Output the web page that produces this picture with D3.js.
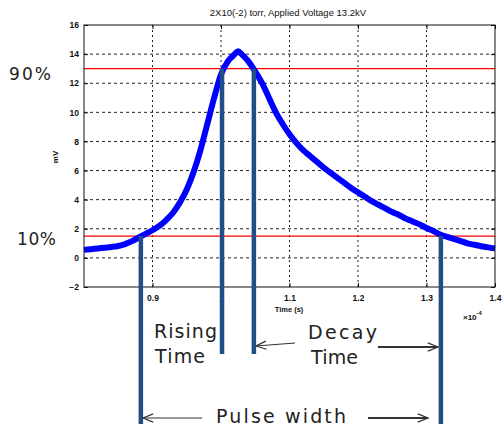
<!DOCTYPE html>
<html><head><meta charset="utf-8">
<script src="https://cdn.jsdelivr.net/npm/d3@7"></script>
<style>body{margin:0;background:#fff}svg{display:block}</style>
</head><body>
<svg id="c" width="502" height="428"></svg>
<script>
// ---- data (time in units of 1e-4 s, signal in mV) ----
const timeVals = [0.80,0.81,0.82,0.83,0.84,0.85,0.86,0.87,0.88,0.89,0.90,0.91,0.92,0.93,0.94,0.95,0.96,0.97,0.98,0.99,
  1.00,1.01,1.02,1.025,1.03,1.04,1.05,1.06,1.07,1.08,1.09,1.10,1.11,1.12,1.13,1.14,1.15,1.16,1.17,1.18,1.19,
  1.20,1.21,1.22,1.23,1.24,1.25,1.26,1.27,1.28,1.29,1.30,1.31,1.32,1.33,1.34,1.35,1.36,1.37,1.38,1.39,1.40];
const signalVals = [0.55,0.6,0.65,0.7,0.75,0.82,0.95,1.15,1.4,1.65,1.9,2.2,2.6,3.1,3.8,4.7,5.9,7.4,9.2,11.0,
  12.6,13.5,14.0,14.2,14.0,13.5,12.8,12.0,11.0,10.0,9.2,8.5,7.9,7.4,7.0,6.6,6.2,5.85,5.5,5.15,4.8,
  4.5,4.2,3.9,3.65,3.4,3.15,2.95,2.7,2.5,2.3,2.05,1.85,1.6,1.45,1.3,1.15,1.0,0.9,0.8,0.72,0.65];
const xTicks = [0.9,1.0,1.1,1.2,1.3,1.4];
const xTickLabels = ["0.9","1","1.1","1.2","1.3","1.4"];
const yTicks = [-2,0,2,4,6,8,10,12,14,16];
const level90 = 13.0, level10 = 1.5;
const markerTimes = [0.883, 1.0015, 1.048, 1.321];
const markerLevels = [1.5, 13.0, 13.0, 1.5];
const titleText = "2X10(-2) torr, Applied Voltage 13.2kV";

// ---- layout ----
const svg = d3.select("#c");
const L = 84, T = 25, W = 411, H = 262;
const x = d3.scaleLinear().domain([0.8,1.4]).range([L, L+W]);
const y = d3.scaleLinear().domain([-2,16]).range([T+H, T]);
const font = "'Liberation Sans', Arial, sans-serif";
const bigFont = "'DejaVu Sans', Verdana, sans-serif";

// grid
svg.append("g").selectAll("line").data(yTicks.filter(d=>d>-2&&d<16)).join("line")
  .attr("x1", L).attr("x2", L+W).attr("y1", d=>y(d)).attr("y2", d=>y(d))
  .attr("stroke", "#222").attr("stroke-width", 1).attr("stroke-dasharray", "3,3");
svg.append("g").selectAll("line").data(xTicks.filter(d=>d<1.4)).join("line")
  .attr("y1", T).attr("y2", T+H).attr("x1", d=>x(d)).attr("x2", d=>x(d))
  .attr("stroke", "#222").attr("stroke-width", 1).attr("stroke-dasharray", "2,3");

// axes with inward ticks
const ax = svg.append("g").attr("font-family", font);
ax.append("g").attr("transform", `translate(0,${T+H})`)
  .call(d3.axisBottom(x).tickValues(xTicks).tickFormat((d,i)=>xTickLabels[i]).tickSizeInner(-4).tickSizeOuter(0).tickPadding(8))
  .call(g=>g.select(".domain").remove());
ax.append("g").attr("transform", `translate(${L},0)`)
  .call(d3.axisLeft(y).tickValues(yTicks).tickSizeInner(-4).tickSizeOuter(0).tickPadding(5))
  .call(g=>g.select(".domain").remove());
ax.append("g").attr("transform", `translate(0,${T})`)
  .call(d3.axisTop(x).tickValues(xTicks).tickFormat("").tickSizeInner(-4).tickSizeOuter(0))
  .call(g=>g.select(".domain").remove());
ax.append("g").attr("transform", `translate(${L+W},0)`)
  .call(d3.axisRight(y).tickValues(yTicks).tickFormat("").tickSizeInner(-4).tickSizeOuter(0))
  .call(g=>g.select(".domain").remove());
ax.selectAll(".tick text").attr("font-size", 8.5).attr("font-weight", "bold").attr("fill", "#111");
ax.selectAll(".tick line").attr("stroke", "#111");

// threshold lines
svg.append("g").selectAll("line").data([level90, level10]).join("line")
  .attr("x1", L).attr("x2", L+W).attr("y1", d=>y(d)).attr("y2", d=>y(d))
  .attr("stroke", "#ff0000").attr("stroke-width", 1.2);

// signal (thick stroke imitates the noise band)
const pts = timeVals.map((t,i)=>[t, signalVals[i]]);
svg.append("path").datum(pts)
  .attr("d", d3.line().x(d=>x(d[0])).y(d=>y(d[1])).curve(d3.curveMonotoneX))
  .attr("fill", "none").attr("stroke", "#0000ff").attr("stroke-width", 6).attr("stroke-linejoin", "round");

// frame
svg.append("rect").attr("x", L).attr("y", T).attr("width", W).attr("height", H)
  .attr("fill", "none").attr("stroke", "#111").attr("stroke-width", 1);

// title & labels
svg.append("text").attr("x", 288).attr("y", 16).attr("text-anchor", "middle")
  .attr("font-family", font).attr("font-size", 9.5).attr("fill", "#111").text(titleText);
svg.append("text").attr("transform", "translate(58,157) rotate(-90)").attr("text-anchor", "middle")
  .attr("font-family", font).attr("font-size", 8).attr("font-weight", "bold").attr("fill", "#111").text("mV");
svg.append("text").attr("x", 289).attr("y", 312).attr("text-anchor", "middle")
  .attr("font-family", font).attr("font-size", 7.5).attr("font-weight", "bold").attr("fill", "#111").text("Time (s)");
const ex = svg.append("text").attr("x", 463).attr("y", 320)
  .attr("font-family", font).attr("font-size", 8).attr("font-weight", "bold").attr("fill", "#111");
ex.append("tspan").text("\u00d710");
ex.append("tspan").attr("dy", -5).attr("font-size", 6).text("-4");

// marker bars
const barColor = "#1f4e89";
const barBottoms = [424, 354, 354, 424];
svg.append("g").selectAll("line").data(markerTimes).join("line")
  .attr("x1", d=>x(d)).attr("x2", d=>x(d))
  .attr("y1", (d,i)=>y(markerLevels[i])).attr("y2", (d,i)=>barBottoms[i])
  .attr("stroke", barColor).attr("stroke-width", 4.5);

// annotation texts
const ann = svg.append("g").attr("font-family", bigFont).attr("font-size", 19).attr("fill", "#222");
ann.append("text").attr("x", 9).attr("y", 80).attr("textLength", 42).attr("font-size", 17).text("90%");
ann.append("text").attr("x", 17).attr("y", 245).attr("textLength", 39).attr("font-size", 17).text("10%");
ann.append("text").attr("x", 154).attr("y", 338).attr("textLength", 63).text("Rising");
ann.append("text").attr("x", 155).attr("y", 363).attr("textLength", 50).text("Time");
ann.append("text").attr("x", 308).attr("y", 339).attr("textLength", 69).text("Decay");
ann.append("text").attr("x", 311).attr("y", 364).attr("textLength", 47).text("Time");
ann.append("text").attr("x", 216).attr("y", 423).attr("textLength", 130).text("Pulse  width");

// arrows
function arrow(x1,y1,x2,y2,w){
  const g = svg.append("g").attr("stroke", "#333").attr("fill", "none").attr("stroke-width", w);
  g.append("line").attr("x1",x1).attr("y1",y1).attr("x2",x2).attr("y2",y2);
  const a = Math.atan2(y2-y1, x2-x1), len = 11, sp = 0.38;
  g.append("path").attr("d",
    `M${x2-len*Math.cos(a-sp)},${y2-len*Math.sin(a-sp)}L${x2},${y2}L${x2-len*Math.cos(a+sp)},${y2-len*Math.sin(a+sp)}`)
    .attr("stroke-width", 1.2);
}
arrow(295, 343, 256, 346, 1.2);
arrow(378, 347, 438, 347, 2.2);
arrow(202, 418, 143, 418, 1.2);
arrow(368, 418, 428, 418, 2);
</script>
</body></html>
